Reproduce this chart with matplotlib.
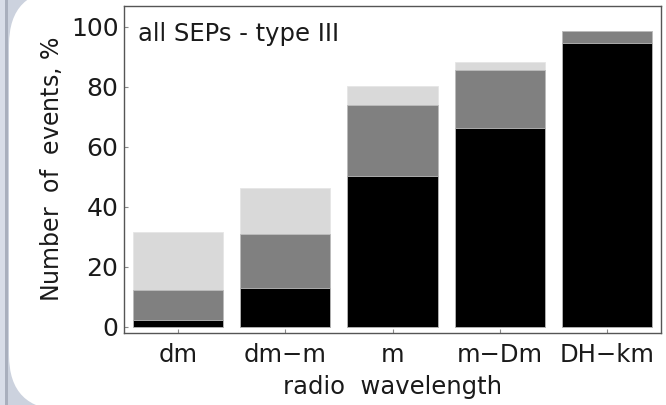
import matplotlib
matplotlib.use("Agg")
import matplotlib.pyplot as plt
from matplotlib.patches import FancyBboxPatch, Rectangle
import numpy as np

# radio wavelength categories and stacked percentages (cumulative tops)
categories = ['dm', 'dm\u2212m', 'm', 'm\u2212Dm', 'DH\u2212km']
black_top = [2.3, 13.0, 50.4, 66.3, 94.7]
gray_top = [12.3, 31.0, 74.0, 85.8, 98.5]
light_top = [31.7, 46.4, 80.4, 88.2, 98.5]

fig = plt.figure(figsize=(6.66, 4.05), dpi=100)
fig.patch.set_facecolor('#ccd2de')

# decorative frame: bluish strip on the left, white rounded panel
fig.patches.append(Rectangle((0.0, 0.0), 0.08, 4.05, transform=fig.dpi_scale_trans,
                             facecolor='#a9afbd', edgecolor='none', zorder=0))
fig.patches.append(Rectangle((0.0, 0.0), 0.045, 4.05, transform=fig.dpi_scale_trans,
                             facecolor='#d8dde8', edgecolor='none', zorder=0))
fig.patches.append(FancyBboxPatch((0.09, -0.05), 7.0, 4.2,
                                  boxstyle='round,pad=0,rounding_size=0.55',
                                  transform=fig.dpi_scale_trans,
                                  facecolor='white', edgecolor='none', zorder=0.5))

ax = fig.add_axes([124/666, 1 - 333/405, 537/666, 327/405])
ax.set_zorder(2)
x = np.arange(len(categories))
w = 0.84
ax.bar(x, light_top, width=w, color='#d9d9d9', edgecolor='#e6e6e6', linewidth=0.6)
ax.bar(x, gray_top, width=w, color='#808080', edgecolor='#bdbdbd', linewidth=0.6)
ax.bar(x, black_top, width=w, color='black', edgecolor='#bdbdbd', linewidth=0.6)

ax.set_xlim(-0.5, 4.5)
ax.set_ylim(-2, 107)
ax.set_xticks(x)
ax.set_xticklabels(categories)
ax.set_yticks([0, 20, 40, 60, 80, 100])
ax.tick_params(axis='both', direction='in', length=3, width=0.8, color='#888888',
               labelsize=17.5, labelcolor='#1a1a1a')
ax.tick_params(axis='x', pad=7)
ax.tick_params(axis='y', pad=4, labelsize=18)
for s in ax.spines.values():
    s.set_color('#555555')
    s.set_linewidth(1.0)

ax.set_ylabel('Number  of  events, $\\%$', fontsize=17, color='#1a1a1a', labelpad=5)
ax.set_xlabel('radio  wavelength', fontsize=17.5, color='#1a1a1a', labelpad=6)
ax.text(0.027, 0.95, 'all SEPs - type III', transform=ax.transAxes, fontsize=17.5,
        color='#1a1a1a', va='top', ha='left')

fig.savefig('out.png', dpi=100, facecolor=fig.get_facecolor())
